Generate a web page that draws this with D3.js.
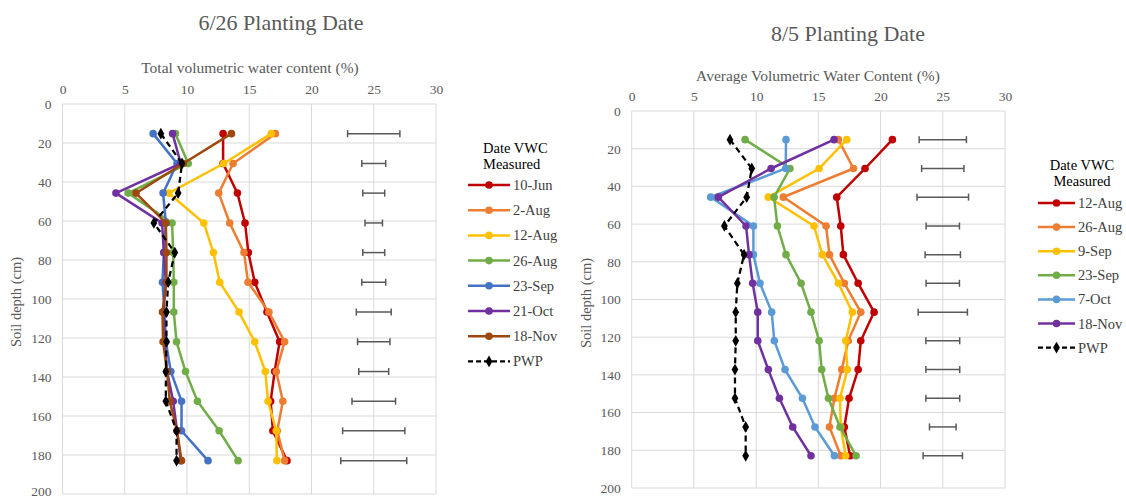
<!DOCTYPE html>
<html><head><meta charset="utf-8">
<script src="https://cdn.jsdelivr.net/npm/d3@7"></script>
<style>
html,body{margin:0;padding:0;background:#fff;}
svg text{font-family:"Liberation Serif","Times New Roman","DejaVu Serif",serif;}
</style></head>
<body><svg id="c" width="1126" height="500"></svg>
<script>
// ---------- shared data ----------
const depths = [15.2, 30.5, 45.7, 61.0, 76.2, 91.4, 106.7, 121.9, 137.2, 152.4, 167.6, 182.9];
const xTicks = [0, 5, 10, 15, 20, 25, 30];
const yTicks = [0, 20, 40, 60, 80, 100, 120, 140, 160, 180, 200];
const errCenter = 25;

// ---------- 6/26 planting date ----------
const leftTitle = "6/26 Planting Date";
const leftAxisTitle = "Total volumetric water content (%)";
const leftNames = ["10-Jun", "2-Aug", "12-Aug", "26-Aug", "23-Sep", "21-Oct", "18-Nov", "PWP"];
const leftJun10 = [12.9, 12.9, 14.05, 14.66, 14.93, 15.44, 16.42, 17.44, 17.04, 16.72, 16.9, 18.03];
const leftAug2  = [17.1, 13.7, 12.55, 13.43, 14.58, 14.9, 16.58, 17.84, 17.17, 17.7, 17.25, 17.84];
const leftAug12 = [16.77, 12.95, 8.54, 11.35, 12.12, 12.63, 14.18, 15.44, 16.29, 16.51, 17.17, 17.22];
const leftAug26 = [9.07, 10.1, 5.28, 8.8, 8.89, 8.94, 8.94, 9.16, 9.88, 10.84, 12.58, 14.1];
const leftSep23 = [7.28, 9.2, 8.08, 8.3, 8.14, 8.03, 8.2, 8.3, 8.7, 9.56, 9.56, 11.69];
const leftOct21 = [8.84, 9.5, 4.29, 8.0, 8.14, 8.3, 8.1, 8.2, 8.4, 8.89, 9.2, 9.5];
const leftNov18 = [13.57, 9.7, 5.9, 8.3, 8.35, 8.35, 8.03, 8.08, 8.4, 8.62, 9.2, 9.56];
const leftPWP   = [7.9, 9.6, 9.29, 7.34, 9.02, 8.49, 8.35, 8.35, 8.3, 8.3, 9.16, 9.16];
const leftErrHalf = [2.1, 0.96, 0.88, 0.7, 0.88, 0.96, 1.4, 1.3, 1.2, 1.75, 2.5, 2.65];
const leftColors = ["#C00000", "#ED7D31", "#FFC000", "#70AD47", "#4472C4", "#7030A0", "#9E480E", "#000000"];

// ---------- 8/5 planting date ----------
const rightTitle = "8/5 Planting Date";
const rightAxisTitle = "Average Volumetric Water Content (%)";
const rightNames = ["12-Aug", "26-Aug", "9-Sep", "23-Sep", "7-Oct", "18-Nov", "PWP"];
const rightAug12 = [20.95, 18.75, 16.48, 16.8, 17.01, 18.2, 19.48, 18.41, 18.2, 17.47, 17.09, 17.55];
const rightAug26 = [16.61, 17.82, 12.19, 15.62, 15.89, 17.09, 18.41, 17.4, 16.88, 16.29, 15.89, 16.8];
const rightSep9  = [17.28, 15.06, 10.98, 14.65, 15.32, 16.61, 17.73, 17.2, 17.33, 16.74, 16.8, 17.2];
const rightSep23 = [9.11, 12.72, 11.44, 11.71, 12.4, 13.61, 14.41, 15.06, 15.27, 15.81, 16.74, 18.03];
const rightOct7  = [12.4, 12.38, 6.35, 9.78, 9.78, 10.31, 11.25, 11.46, 12.32, 13.72, 14.73, 16.29];
const rightNov18 = [16.26, 11.2, 6.96, 9.19, 9.43, 9.72, 10.13, 10.13, 10.98, 11.87, 12.94, 14.41];
const rightPWP   = [7.9, 9.65, 9.24, 7.45, 9.03, 8.49, 8.36, 8.36, 8.3, 8.3, 9.16, 9.16];
const rightErrHalf = [1.9, 1.7, 2.07, 1.34, 1.42, 1.34, 1.98, 1.36, 1.36, 1.36, 1.07, 1.58];
const rightColors = ["#C00000", "#ED7D31", "#FFC000", "#70AD47", "#5B9BD5", "#7030A0", "#000000"];

const legendTitle = ["Date VWC", "Measured"];
const yAxisTitle = "Soil depth (cm)";

const FONT = "Liberation Serif, Times New Roman, DejaVu Serif, serif";
const svg = d3.select("#c");
const TXT = "#595959";
const GRID = "#d9d9d9";

function panel(cfg) {
  const g = svg.append("g").attr("font-family", FONT);
  const x = d3.scaleLinear().domain([0, 30]).range([cfg.x0, cfg.x1]);
  const y = d3.scaleLinear().domain([0, 200]).range([cfg.y0, cfg.y1]);

  // titles
  g.append("text").attr("x", cfg.titleX).attr("y", cfg.titleY).attr("text-anchor", "middle")
    .attr("dominant-baseline", "central").attr("fill", TXT).attr("font-size", 22)
    .attr("font-family", FONT).text(cfg.title);
  g.append("text").attr("x", cfg.axTitleX).attr("y", cfg.axTitleY).attr("text-anchor", "middle")
    .attr("dominant-baseline", "central").attr("fill", TXT).attr("font-size", 15.5)
    .attr("font-family", FONT).text(cfg.axisTitle);

  // grid
  g.append("g").selectAll("line").data(xTicks).join("line")
    .attr("x1", d => x(d)).attr("x2", d => x(d)).attr("y1", cfg.y0).attr("y2", cfg.y1)
    .attr("stroke", GRID).attr("stroke-width", 1);
  g.append("g").selectAll("line").data(yTicks).join("line")
    .attr("x1", cfg.x0).attr("x2", cfg.x1).attr("y1", d => y(d)).attr("y2", d => y(d))
    .attr("stroke", GRID).attr("stroke-width", 1);

  // axes (labels only)
  const ax = g.append("g").attr("transform", `translate(0,${cfg.y0 - 10})`)
    .call(d3.axisTop(x).tickValues(xTicks).tickSize(0).tickPadding(0));
  ax.attr("font-family", FONT);
  ax.select(".domain").remove();
  ax.selectAll("text").attr("fill", TXT).attr("font-size", 13.5).attr("font-family", FONT);
  const ay = g.append("g").attr("transform", `translate(${cfg.x0 - 11},0)`)
    .call(d3.axisLeft(y).tickValues(yTicks).tickSize(0).tickPadding(0));
  ay.attr("font-family", FONT);
  ay.select(".domain").remove();
  ay.selectAll("text").attr("fill", TXT).attr("font-size", 13.5).attr("font-family", FONT);
  // keep the lowest label inside the page
  ay.selectAll(".tick").filter(d => y(d) > 490).select("text")
    .attr("y", d => 491 - y(d));

  g.append("text").attr("transform", `translate(${cfg.yTitleX},${cfg.yTitleY}) rotate(-90)`)
    .attr("text-anchor", "middle").attr("dominant-baseline", "central")
    .attr("fill", TXT).attr("font-size", 14.5).attr("font-family", FONT).text(yAxisTitle);

  // error bars
  const eb = g.append("g").attr("stroke", "#595959").attr("stroke-width", 1.5);
  cfg.errHalf.forEach((h, i) => {
    const yy = y(depths[i]);
    eb.append("line").attr("x1", x(errCenter - h)).attr("x2", x(errCenter + h)).attr("y1", yy).attr("y2", yy);
    eb.append("line").attr("x1", x(errCenter - h)).attr("x2", x(errCenter - h)).attr("y1", yy - 3.5).attr("y2", yy + 3.5);
    eb.append("line").attr("x1", x(errCenter + h)).attr("x2", x(errCenter + h)).attr("y1", yy - 3.5).attr("y2", yy + 3.5);
  });

  const line = d3.line().x(d => x(d[0])).y(d => y(d[1]));
  const diamond = d3.symbol().type(d3.symbolDiamond).size(40);
  // series
  cfg.series.forEach((vals, si) => {
    const pts = vals.map((v, i) => [v, depths[i]]);
    const col = cfg.colors[si];
    const isPWP = cfg.names[si] === "PWP";
    const sg = g.append("g");
    sg.append("path").datum(pts).attr("d", line).attr("fill", "none")
      .attr("stroke", col).attr("stroke-width", isPWP ? 2.25 : 2.5)
      .attr("stroke-dasharray", isPWP ? "6,4" : null);
    if (isPWP) {
      sg.selectAll("path.m").data(pts).join("path").attr("class", "m")
        .attr("transform", d => `translate(${x(d[0])},${y(d[1])})`).attr("d", diamond).attr("fill", col);
    } else {
      sg.selectAll("circle").data(pts).join("circle")
        .attr("cx", d => x(d[0])).attr("cy", d => y(d[1])).attr("r", 3.8).attr("fill", col);
    }
  });

  // legend
  const lg = g.append("g");
  legendTitle.forEach((t, i) => {
    lg.append("text").attr("x", cfg.legTitleX).attr("y", cfg.legTitleY + i * 16)
      .attr("text-anchor", cfg.legTitleAnchor).attr("dominant-baseline", "central")
      .attr("fill", "#000").attr("font-size", 14.5).attr("font-family", FONT).text(t);
  });
  cfg.names.forEach((n, i) => {
    const yy = cfg.legY + i * cfg.legStep;
    const col = cfg.colors[i];
    const isPWP = n === "PWP";
    lg.append("line").attr("x1", cfg.legX0).attr("x2", cfg.legX1).attr("y1", yy).attr("y2", yy)
      .attr("stroke", col).attr("stroke-width", isPWP ? 2.25 : 2.5)
      .attr("stroke-dasharray", isPWP ? "5,3" : null);
    const mx = (cfg.legX0 + cfg.legX1) / 2;
    if (isPWP) {
      lg.append("path").attr("transform", `translate(${mx},${yy})`).attr("d", diamond).attr("fill", col);
    } else {
      lg.append("circle").attr("cx", mx).attr("cy", yy).attr("r", 3.8).attr("fill", col);
    }
    lg.append("text").attr("x", cfg.legX1 + 3).attr("y", yy).attr("dominant-baseline", "central")
      .attr("fill", "#404040").attr("font-size", 14.5).attr("font-family", FONT).text(n);
  });
}

panel({
  x0: 62.5, x1: 436, y0: 104, y1: 494,
  title: leftTitle, titleX: 281, titleY: 22,
  axisTitle: leftAxisTitle, axTitleX: 250, axTitleY: 67,
  yTitleX: 16, yTitleY: 302,
  series: [leftJun10, leftAug2, leftAug12, leftAug26, leftSep23, leftOct21, leftNov18, leftPWP],
  names: leftNames, colors: leftColors, errHalf: leftErrHalf,
  legTitleX: 483, legTitleY: 148, legTitleAnchor: "start",
  legX0: 468, legX1: 510, legY: 185, legStep: 25.2
});

panel({
  x0: 631.7, x1: 1005, y0: 111, y1: 488,
  title: rightTitle, titleX: 848, titleY: 33,
  axisTitle: rightAxisTitle, axTitleX: 818, axTitleY: 75,
  yTitleX: 586, yTitleY: 303,
  series: [rightAug12, rightAug26, rightSep9, rightSep23, rightOct7, rightNov18, rightPWP],
  names: rightNames, colors: rightColors, errHalf: rightErrHalf,
  legTitleX: 1082, legTitleY: 165, legTitleAnchor: "middle",
  legX0: 1038, legX1: 1075, legY: 203, legStep: 24.1
});
</script></body></html>
